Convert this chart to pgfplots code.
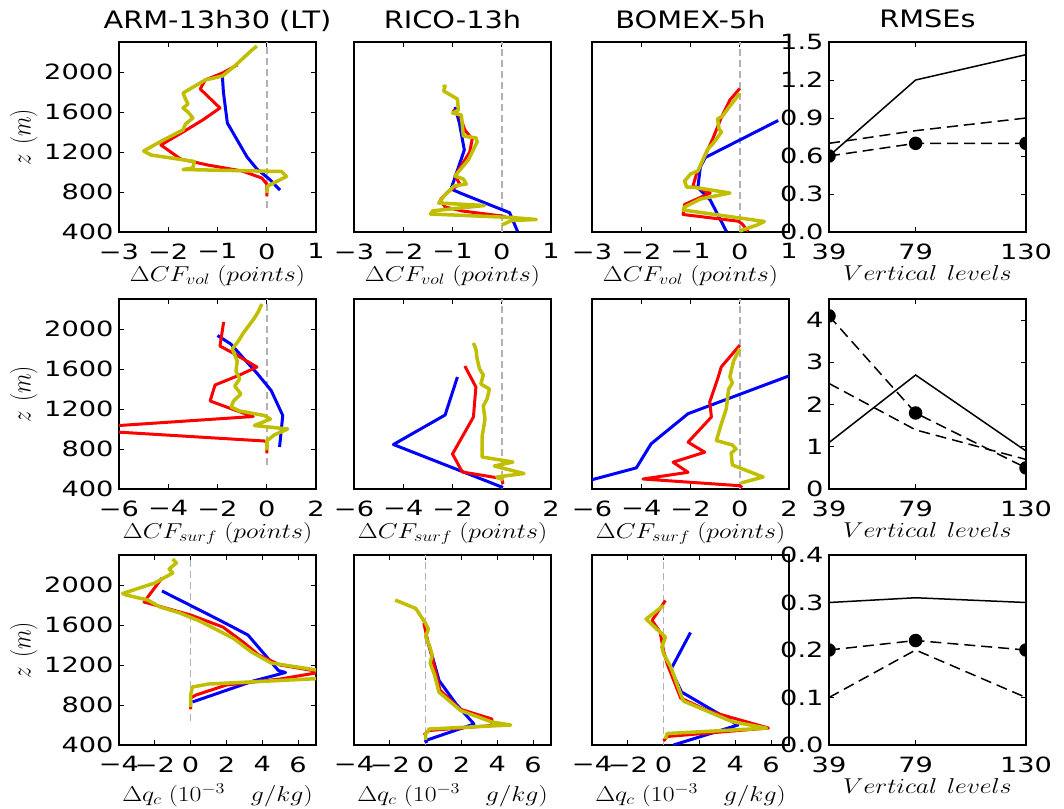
\RequirePackage{fix-cm}
\documentclass[border=0pt]{standalone}
\usepackage[no-math]{fontspec}
\setmainfont[FakeStretch=1.2]{DejaVu Sans}
\usepackage{graphicx}
\usepackage{pgfplots}
\pgfplotsset{compat=1.18}
\definecolor{myb}{rgb}{0,0,1}
\definecolor{myr}{rgb}{1,0,0}
\definecolor{myy}{rgb}{0.75,0.75,0}
\newcommand{\lab}[1]{\scalebox{1.2}[1]{\fontsize{21.5}{26}\selectfont$#1$}}
\newcommand{\ylab}[1]{\scalebox{1}[1.2]{\fontsize{23}{27}\selectfont$#1$}}
\newcommand{\T}[1]{{\fontsize{21}{25}\selectfont\scalebox{1.08}[1]{#1}}}
\pgfplotsset{
 pbase/.style={scale only axis, width=197pt, height=190pt, anchor=north west,
   axis line style={line width=1.5pt}, tick style={line width=1pt, black}, major tick length=5pt,
   title style={font=\fontsize{24}{28}\selectfont, at={(0.5,1)}, anchor=base, yshift=8pt},
   xticklabel style={yshift=-8pt},
   yticklabel style={xshift=-2pt},
   every axis x label/.style={at={(axis description cs:0.5,0)}, anchor=north, yshift=-30pt},
   every axis y label/.style={at={(axis description cs:-0.396,0.5)}, rotate=90, anchor=south},
   clip marker paths=true},
 prof/.style={pbase, ymin=400, ymax=2300},
 lefty/.style={ytick={400,800,1200,1600,2000}, yticklabels={\T{400},\T{800},\T{1200},\T{1600},\T{2000}}, ylabel={\ylab{z\ (m)}}},
 noy/.style={ytick=\empty},
 r1/.style={xmin=-3,xmax=1, xtick={-3,-2,-1,0,1}, xticklabels={\T{−3},\T{−2},\T{−1},\T{0},\T{1}}, xlabel={\lab{\Delta CF_{vol}\;(points)}}},
 r2/.style={xmin=-6,xmax=2, xtick={-6,-4,-2,0,2}, xticklabels={\T{−6},\T{−4},\T{−2},\T{0},\T{2}}, xlabel={\lab{\Delta CF_{surf}\;(points)}}},
 r3/.style={xmin=-4,xmax=7, xtick={-4,-2,0,2,4,6}, xticklabels={\T{−4},\T{−2},\T{0},\T{2},\T{4},\T{6}}, xlabel={\lab{\Delta q_c\;(10^{-3}\quad g/kg)}}, every axis x label/.append style={yshift=-5pt}},
 rm/.style={pbase, xmin=39,xmax=130, xtick={39,79,130}, xticklabels={\T{39},\T{79},\T{130}}, xlabel={\lab{Vertical\ levels}}},
 bl/.style={myb, line width=3pt, line join=round},
 rd/.style={myr, line width=3pt, line join=round},
 yl/.style={myy, line width=3.5pt, line join=round},
 zl/.style={black!30, line width=1.5pt, dash pattern=on 7pt off 4pt},
 sol/.style={black, line width=1.5pt},
 das/.style={black, line width=1.5pt, dash pattern=on 11pt off 6pt},
 dotl/.style={das, mark=*, mark size=6pt, mark options={solid, fill=black}},
}
\begin{document}
\begin{tikzpicture}
\path[use as bounding box] (0,0) rectangle (1064pt,-808pt);
% ---------------- Row 1
\begin{axis}[prof, lefty, r1, at={(119pt,-42pt)}, title={ARM-13h30 (LT)}]
\addplot[zl] coordinates {(0,640) (0,2300)};
\addplot[bl] coordinates {(-0.90,1950) (-0.88,1800) (-0.80,1490) (-0.60,1320) (-0.40,1150) (-0.20,1030) (0.05,930) (0.27,820)};
\addplot[rd] coordinates {(-0.60,2070) (-0.90,1990) (-1.25,1920) (-1.35,1830) (-0.95,1640) (-1.30,1520) (-1.70,1400) (-2.15,1270) (-1.75,1130) (-1.20,1070) (-0.50,1010) (-0.10,940) (0.00,880) (0.00,760)};
\addplot[yl] coordinates {(-0.20,2260) (-0.30,2220) (-0.65,2060) (-0.90,1960) (-1.25,1920) (-1.70,1790) (-1.65,1730) (-1.60,1680) (-1.70,1640) (-1.60,1600) (-1.50,1540) (-1.65,1480) (-1.70,1420) (-2.10,1320) (-2.50,1210) (-2.35,1170) (-1.47,1105) (-1.50,1040) (-1.70,1025) (0.30,1005) (0.40,955) (0.02,860) (0.00,790)};
\end{axis}
\begin{axis}[prof, noy, r1, at={(354pt,-42pt)}, title={RICO-13h}]
\addplot[zl] coordinates {(0,400) (0,2300)};
\addplot[bl] coordinates {(-0.95,1650) (-0.86,1490) (-0.76,1220) (-1.03,830) (-0.82,785) (0.16,593) (0.32,407)};
\addplot[rd] coordinates {(-1.00,1620) (-0.85,1560) (-0.75,1420) (-0.60,1330) (-0.65,1200) (-0.95,960) (-0.85,880) (-1.10,800) (-1.25,720) (-1.15,650) (-0.80,610) (0.00,560) (0.10,545)};
\addplot[yl] coordinates {(-1.20,1850) (-1.15,1860) (-1.18,1810) (-0.90,1730) (-0.88,1620) (-1.00,1590) (-0.82,1570) (-0.78,1360) (-0.52,1340) (-0.50,1300) (-0.68,1120) (-0.95,960) (-0.78,930) (-0.72,880) (-0.97,860) (-1.16,765) (-1.28,690) (-0.35,665) (-1.40,612) (-1.45,580) (0.20,545) (0.70,525) (0.20,515) (0.00,470)};
\end{axis}
\begin{axis}[prof, noy, r1, at={(592pt,-42pt)}, title={BOMEX-5h}]
\addplot[zl] coordinates {(0,400) (0,2300)};
\addplot[bl] coordinates {(0.78,1515) (-0.70,1145) (-0.80,1050) (-0.85,845) (-0.60,720) (-0.27,405)};
\addplot[rd] coordinates {(0.00,1835) (-0.20,1720) (-0.37,1550) (-0.55,1330) (-0.88,978) (-0.95,860) (-0.60,790) (-1.12,675) (-1.15,575) (-0.03,508) (0.05,480) (0.17,407)};
\addplot[yl] coordinates {(0.00,1785) (-0.20,1660) (-0.35,1560) (-0.45,1530) (-0.42,1430) (-0.37,1400) (-0.55,1280) (-0.65,1230) (-0.75,1120) (-0.85,1010) (-1.00,980) (-1.12,910) (-1.08,850) (-0.90,845) (-0.20,790) (-0.80,730) (-1.12,650) (-1.15,620) (0.50,505) (0.35,470) (0.00,410)};
\end{axis}
\begin{axis}[rm, at={(829pt,-42pt)}, title={RMSEs}, ymin=0, ymax=1.5, ytick={0,0.3,0.6,0.9,1.2,1.5}, yticklabels={\T{0.0},\T{0.3},\T{0.6},\T{0.9},\T{1.2},\T{1.5}}]
\addplot[sol] coordinates {(39,0.6) (79,1.2) (130,1.4)};
\addplot[das] coordinates {(39,0.7) (79,0.8) (130,0.9)};
\addplot[dotl] coordinates {(39,0.6) (79,0.7) (130,0.7)};
\end{axis}
% ---------------- Row 2
\begin{axis}[prof, lefty, r2, at={(119pt,-299pt)}]
\addplot[zl] coordinates {(0,640) (0,2300)};
\addplot[bl] coordinates {(-2.00,1935) (-1.46,1850) (-0.37,1550) (0.18,1385) (0.65,1135) (0.52,820)};
\addplot[rd] coordinates {(-1.75,2070) (-1.90,1830) (-1.30,1750) (-0.40,1620) (-1.10,1540) (-2.10,1440) (-2.30,1280) (-1.30,1190) (-0.55,1125) (-8.10,1000) (-0.10,880) (0.00,870) (0.00,760)};
\addplot[yl] coordinates {(-0.20,2250) (-0.35,2170) (-0.50,2110) (-0.95,1960) (-1.15,1880) (-1.40,1800) (-1.20,1680) (-1.25,1580) (-1.10,1500) (-1.30,1430) (-1.05,1350) (-1.35,1280) (-1.45,1220) (-1.10,1180) (-0.10,1135) (0.15,1100) (-0.50,1035) (0.85,1000) (0.30,940) (0.00,880) (0.00,790)};
\end{axis}
\begin{axis}[prof, noy, r2, at={(354pt,-299pt)}]
\addplot[zl] coordinates {(0,400) (0,2300)};
\addplot[bl] coordinates {(-1.80,1520) (-2.30,1140) (-4.40,845) (0.05,415)};
\addplot[rd] coordinates {(-1.50,1630) (-1.05,1420) (-1.15,1120) (-2.00,750) (-1.60,570) (0.00,505) (0.05,450)};
\addplot[yl] coordinates {(-1.15,1860) (-1.05,1800) (-1.00,1700) (-0.90,1600) (-0.75,1540) (-0.85,1450) (-0.50,1400) (-0.60,1300) (-0.75,1230) (-0.68,1100) (-0.80,920) (-0.80,720) (0.45,670) (-0.30,630) (0.10,605) (0.90,555) (-0.20,520) (0.05,490)};
\end{axis}
\begin{axis}[prof, noy, r2, at={(592pt,-299pt)}]
\addplot[zl] coordinates {(0,400) (0,2300)};
\addplot[bl] coordinates {(-6.50,460) (-4.20,611) (-3.60,852) (-2.10,1153) (2.50,1577)};
\addplot[rd] coordinates {(0.00,1838) (-0.75,1621) (-0.90,1500) (-1.22,1270) (-1.15,1120) (-2.10,868) (-1.42,768) (-2.71,668) (-2.10,567) (-3.93,500) (0.00,433) (0.10,415)};
\addplot[yl] coordinates {(0.00,1805) (-0.25,1680) (-0.35,1580) (-0.40,1520) (-0.30,1460) (-0.45,1400) (-0.50,1300) (-0.55,1200) (-0.75,1050) (-0.95,885) (-0.30,840) (-0.15,800) (-0.35,760) (-0.30,640) (0.95,520) (0.05,460)};
\end{axis}
\begin{axis}[rm, at={(829pt,-299pt)}, ymin=0, ymax=4.5, ytick={0,1,2,3,4}, yticklabels={\T{0},\T{1},\T{2},\T{3},\T{4}}]
\addplot[sol] coordinates {(39,1.1) (79,2.7) (130,0.9)};
\addplot[das] coordinates {(39,2.5) (79,1.4) (130,0.7)};
\addplot[dotl] coordinates {(39,4.1) (79,1.8) (130,0.5)};
\end{axis}
% ---------------- Row 3
\begin{axis}[prof, lefty, r3, at={(119pt,-555pt)}]
\addplot[zl] coordinates {(0,640) (0,2300)};
\addplot[bl] coordinates {(-1.60,1940) (1.60,1650) (3.20,1500) (4.90,1145) (5.30,1125) (3.50,1040) (0.10,830)};
\addplot[rd] coordinates {(-1.60,2070) (-2.60,1830) (-2.00,1800) (0.00,1700) (1.80,1580) (3.00,1420) (3.80,1300) (5.00,1200) (7.30,1130) (5.00,1060) (2.00,1000) (0.30,900) (0.00,870) (0.00,760)};
\addplot[yl] coordinates {(-1.00,2260) (-0.80,2220) (-1.20,2160) (-1.00,2120) (-2.00,2020) (-3.80,1915) (-3.60,1900) (-2.40,1850) (-1.70,1780) (-0.60,1720) (0.50,1640) (1.60,1540) (2.40,1465) (3.40,1330) (4.50,1220) (7.20,1145) (7.20,1065) (1.00,1010) (0.10,980) (0.00,900) (0.00,780)};
\end{axis}
\begin{axis}[prof, noy, r3, at={(354pt,-555pt)}]
\addplot[zl] coordinates {(0,400) (0,2300)};
\addplot[bl] coordinates {(0.00,1500) (0.35,1300) (0.75,1045) (1.70,810) (2.70,610) (0.00,445) (0.05,420)};
\addplot[rd] coordinates {(-0.10,1620) (0.10,1450) (0.40,1250) (0.80,950) (1.90,760) (3.70,660) (3.70,595) (0.20,545) (-0.10,500)};
\addplot[yl] coordinates {(-1.70,1850) (-0.55,1765) (0.00,1615) (0.15,1560) (0.00,1480) (0.20,1400) (0.37,1300) (0.25,1220) (0.50,1100) (0.74,930) (1.95,745) (3.70,630) (4.75,600) (0.20,560) (0.00,510) (0.00,450)};
\end{axis}
\begin{axis}[prof, noy, r3, at={(592pt,-555pt)}]
\addplot[zl] coordinates {(0,400) (0,2300)};
\addplot[bl] coordinates {(1.50,1525) (0.40,1155) (1.00,930) (4.15,600) (0.55,400)};
\addplot[rd] coordinates {(0.10,1845) (-0.65,1645) (-0.20,1530) (0.00,1340) (0.20,1210) (0.95,870) (2.50,740) (5.85,570) (0.20,485) (0.00,440)};
\addplot[yl] coordinates {(0.00,1795) (-0.98,1660) (-0.30,1545) (0.10,1480) (-0.10,1380) (0.00,1310) (0.40,1180) (1.10,840) (3.80,635) (5.75,568) (0.20,515) (0.10,460)};
\end{axis}
\begin{axis}[rm, at={(829pt,-555pt)}, ymin=0, ymax=0.4, ytick={0,0.1,0.2,0.3,0.4}, yticklabels={\T{0.0},\T{0.1},\T{0.2},\T{0.3},\T{0.4}}]
\addplot[sol] coordinates {(39,0.30) (79,0.31) (130,0.30)};
\addplot[das] coordinates {(39,0.1) (79,0.2) (130,0.1)};
\addplot[dotl] coordinates {(39,0.2) (79,0.22) (130,0.2)};
\end{axis}
\end{tikzpicture}
\end{document}
